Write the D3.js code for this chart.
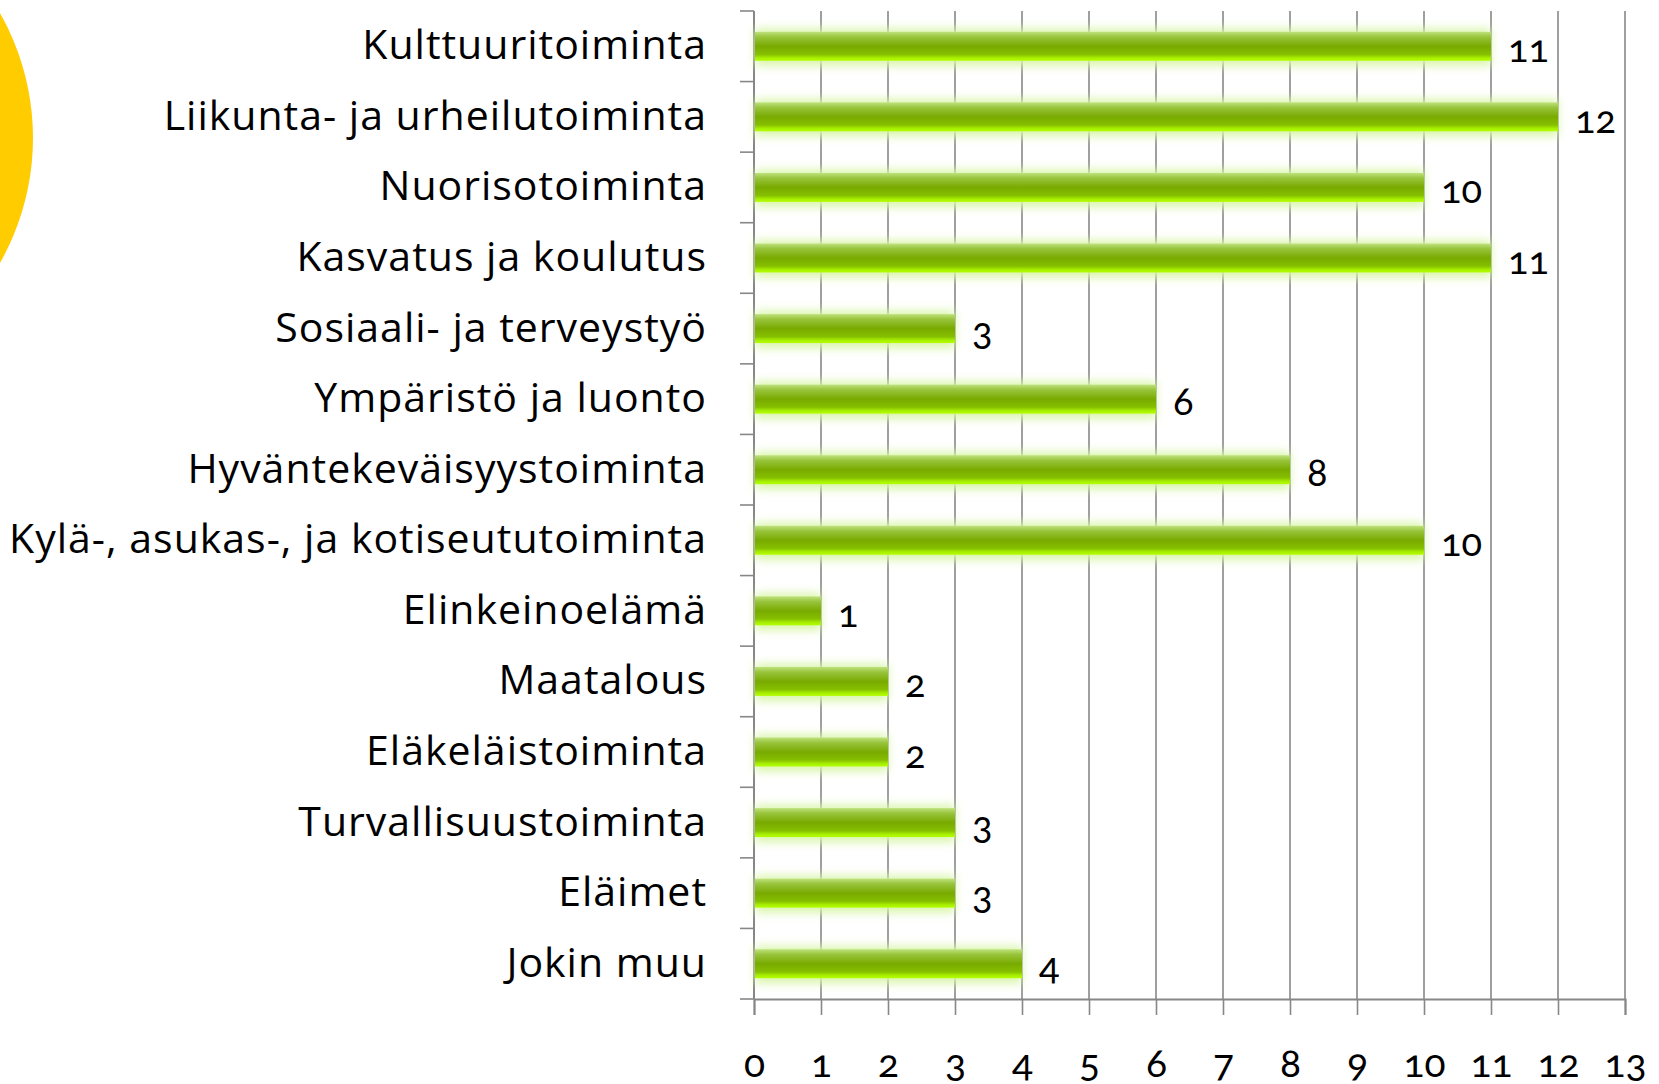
<!DOCTYPE html>
<html>
<head>
<meta charset="utf-8">
<script src="https://cdn.jsdelivr.net/npm/d3@7"></script>
<style>
  body { margin: 0; background: #fff; }
  svg { display: block; font-family: Lato, "Open Sans", sans-serif; }
  .cat { font-family: "Open Sans", sans-serif; font-size: 41px; letter-spacing: 1px; fill: #000; }
  .val { font-size: 38px; fill: #000; font-variant-numeric: oldstyle-nums; }
  .tick text { font-family: Lato, sans-serif; font-size: 39px; fill: #000; font-variant-numeric: oldstyle-nums; }
</style>
</head>
<body>
<svg id="chart" width="1659" height="1084"></svg>
<script>
// categories, top to bottom
var categories = [
  "Kulttuuritoiminta",
  "Liikunta- ja urheilutoiminta",
  "Nuorisotoiminta",
  "Kasvatus ja koulutus",
  "Sosiaali- ja terveystyö",
  "Ympäristö ja luonto",
  "Hyväntekeväisyystoiminta",
  "Kylä-, asukas-, ja kotiseututoiminta",
  "Elinkeinoelämä",
  "Maatalous",
  "Eläkeläistoiminta",
  "Turvallisuustoiminta",
  "Eläimet",
  "Jokin muu"
];

// counts
var values = [11, 12, 10, 11, 3, 6, 8, 10, 1, 2, 2, 3, 3, 4];

// x axis ticks
var xTicks = [0, 1, 2, 3, 4, 5, 6, 7, 8, 9, 10, 11, 12, 13];

var margin = {top: 11, left: 754, right: 34, bottom: 85},
  width = 1659 - margin.left - margin.right,
  height = 1084 - margin.top - margin.bottom;

var svg = d3.select("#chart");

// yellow circle at the left edge
svg.append("circle")
  .attr("cx", -220)
  .attr("cy", 138)
  .attr("r", 253)
  .style("fill", "#ffcc00");

var defs = svg.append("defs");

var grad = defs.append("linearGradient")
  .attr("id", "barGrad")
  .attr("x1", 0).attr("y1", 0)
  .attr("x2", 0).attr("y2", 1);
grad.append("stop").attr("offset", "0%").attr("stop-color", "#bfe27e");
grad.append("stop").attr("offset", "18%").attr("stop-color", "#98c43c");
grad.append("stop").attr("offset", "50%").attr("stop-color", "#78aa00");
grad.append("stop").attr("offset", "78%").attr("stop-color", "#86bf00");
grad.append("stop").attr("offset", "90%").attr("stop-color", "#a6ee00");
grad.append("stop").attr("offset", "100%").attr("stop-color", "#b4ff00");

var glow = defs.append("filter")
  .attr("id", "glow")
  .attr("x", "-10%").attr("y", "-60%")
  .attr("width", "120%").attr("height", "220%");
glow.append("feGaussianBlur").attr("stdDeviation", 5);

var g = svg.append("g")
  .attr("transform", "translate(" + margin.left + "," + margin.top + ")");

var x = d3.scaleLinear()
  .domain([0, 13])
  .range([0, width]);

var y = d3.scaleBand()
  .domain(categories)
  .range([0, height])
  .paddingInner(0.59)
  .paddingOuter(0.295);

var band = height / categories.length;

// vertical gridlines
g.selectAll(".grid")
  .data(xTicks.slice(1))
  .enter().append("line")
  .attr("x1", function(d) { return x(d); })
  .attr("x2", function(d) { return x(d); })
  .attr("y1", 0)
  .attr("y2", height)
  .style("stroke", "#878787")
  .style("stroke-width", 1.6);

// bottom axis
var xAxis = g.append("g")
  .attr("class", "x axis")
  .attr("transform", "translate(0," + height + ")")
  .call(d3.axisBottom(x).tickValues(xTicks).tickSize(16).tickPadding(34));
xAxis.attr("font-family", null).attr("font-size", null);
xAxis.select(".domain").style("stroke", "#878787").style("stroke-width", 2);
xAxis.selectAll(".tick line").style("stroke", "#878787").style("stroke-width", 1.6);

// left axis line with ticks at band boundaries
g.append("line")
  .attr("x1", 0).attr("x2", 0)
  .attr("y1", 0).attr("y2", height)
  .style("stroke", "#878787")
  .style("stroke-width", 2);

g.selectAll(".ytick")
  .data(d3.range(categories.length + 1))
  .enter().append("line")
  .attr("x1", -14).attr("x2", 0)
  .attr("y1", function(i) { return i * band; })
  .attr("y2", function(i) { return i * band; })
  .style("stroke", "#878787")
  .style("stroke-width", 1.6);

// bar glow
g.selectAll(".glow")
  .data(values)
  .enter().append("rect")
  .attr("x", 1)
  .attr("y", function(d, i) { return y(categories[i]) - 3; })
  .attr("width", function(d) { return x(d) - 1; })
  .attr("height", y.bandwidth() + 8)
  .style("fill", "#d8f5a8")
  .attr("filter", "url(#glow)");

// bars
g.selectAll(".bar")
  .data(values)
  .enter().append("rect")
  .attr("class", "bar")
  .attr("x", 1)
  .attr("y", function(d, i) { return y(categories[i]); })
  .attr("width", function(d) { return x(d) - 1; })
  .attr("height", y.bandwidth())
  .style("fill", "url(#barGrad)");

// value labels
g.selectAll(".val")
  .data(values)
  .enter().append("text")
  .attr("class", "val")
  .attr("x", function(d) { return x(d) + 17; })
  .attr("y", function(d, i) { return y(categories[i]) + y.bandwidth() / 2 + 16; })
  .text(function(d) { return d; });

// category labels
g.selectAll(".cat")
  .data(categories)
  .enter().append("text")
  .attr("class", "cat")
  .attr("x", -47)
  .attr("y", function(d) { return y(d) + y.bandwidth() / 2 + 13; })
  .style("text-anchor", "end")
  .text(function(d) { return d; });
</script>
</body>
</html>
